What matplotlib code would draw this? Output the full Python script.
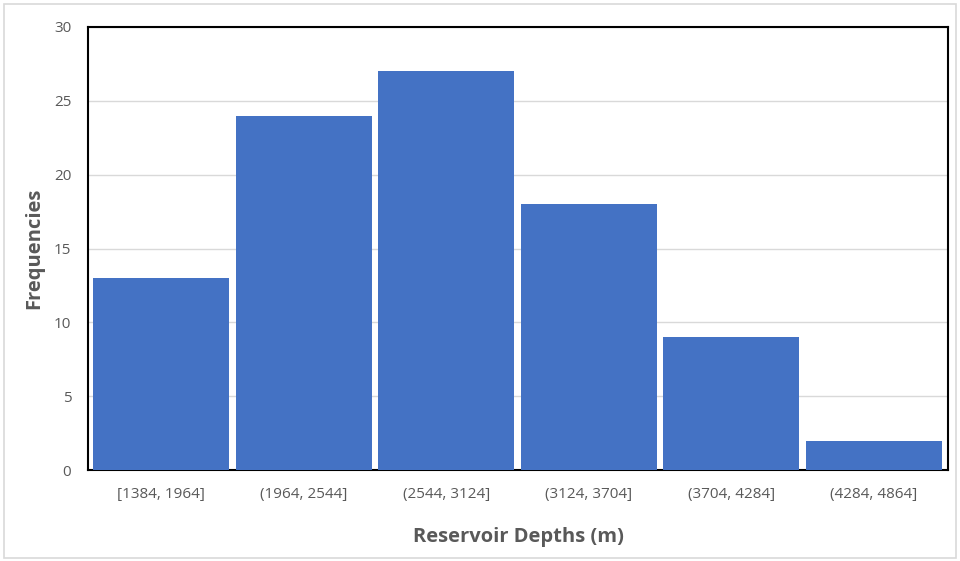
import matplotlib
matplotlib.use("Agg")
import matplotlib.pyplot as plt
from matplotlib.patches import Rectangle

# histogram bins and counts
bins = ["[1384, 1964]", "(1964, 2544]", "(2544, 3124]",
        "(3124, 3704]", "(3704, 4284]", "(4284, 4864]"]
counts = [13, 24, 27, 18, 9, 2]
yticks = [0, 5, 10, 15, 20, 25, 30]

plt.rcParams['font.family'] = ['Open Sans', 'DejaVu Sans']

fig = plt.figure(figsize=(9.6, 5.61), dpi=100)
ax = fig.add_axes([0.0917, 0.162, 0.8958, 0.790])

x = range(len(bins))
ax.bar(x, counts, width=0.955, color="#4472C4", zorder=3)

ax.set_xlim(-0.512, 5.519)
ax.set_ylim(0, 30)
ax.set_yticks(yticks)
ax.set_xticks(list(x))
ax.set_xticklabels(bins)
ax.grid(axis="y", color="#d9d9d9", linewidth=1, zorder=0)
ax.tick_params(length=0, labelsize=11, labelcolor="#595959")
ax.tick_params(axis="y", pad=12)
ax.tick_params(axis="x", pad=12)

for s in ax.spines.values():
    s.set_color("black")
    s.set_linewidth(1.5)

ax.set_xlabel("Reservoir Depths (m)", fontsize=14.5, fontweight="bold",
              color="#595959", labelpad=18)
ax.set_ylabel("Frequencies", fontsize=14.5, fontweight="bold",
              color="#595959", labelpad=7)

# light border around the chart area
fig.patches.append(Rectangle((0.004, 0.006), 0.992, 0.986, transform=fig.transFigure,
                             fill=False, edgecolor="#d9d9d9", linewidth=1.2))

fig.savefig("out.png", dpi=100)
